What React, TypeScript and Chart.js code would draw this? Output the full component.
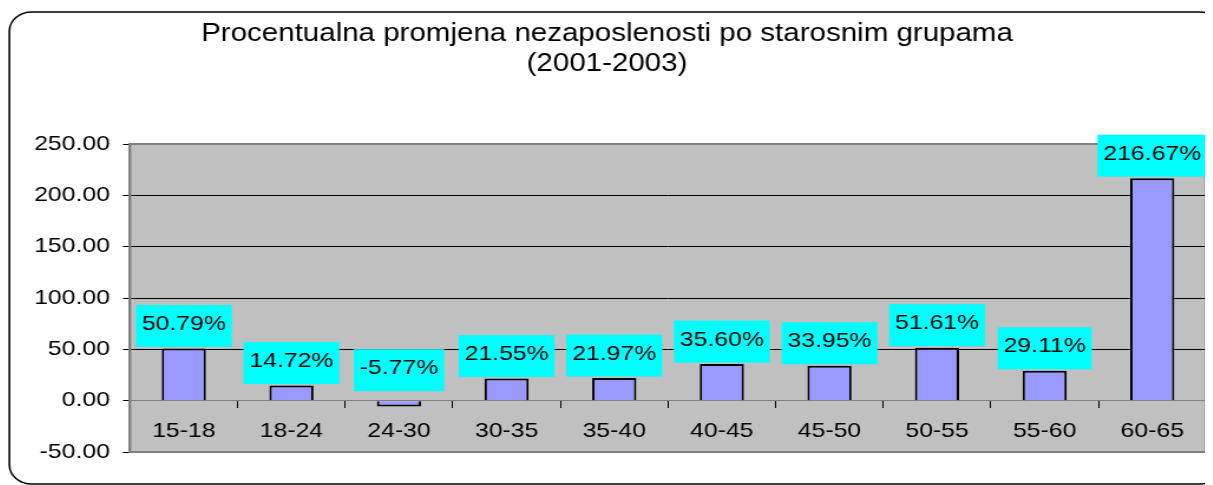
import React, { useEffect, useRef } from "react";
import { Chart, registerables } from "chart.js";

Chart.register(...registerables);

// ---- data ----
const categories = ["15-18", "18-24", "24-30", "30-35", "35-40", "40-45", "45-50", "50-55", "55-60", "60-65"];
const changePct = [50.79, 14.72, -5.77, 21.55, 21.97, 35.6, 33.95, 51.61, 29.11, 216.67];
const titleLines = ["Procentualna promjena nezaposlenosti po starosnim grupama", "(2001-2003)"];
const yMin = -50;
const yMax = 250;
const yStep = 50;

// ---- style ----
const FONT = "'Liberation Sans', Arial, Helvetica, sans-serif";
const STRETCH = 1.18;
const W = 1021;
const H = 477;

const formatPct = (v: number) => v.toFixed(2) + "%";

const frame = {
  id: "frame",
  beforeDraw(chart: any) {
    const { ctx, chartArea } = chart;
    ctx.save();
    ctx.fillStyle = "#ffffff";
    ctx.fillRect(0, 0, chart.width, chart.height);
    // outer rounded frame
    ctx.beginPath();
    (ctx as any).roundRect(1.2, 4, 1028, 472, 19);
    ctx.lineWidth = 1.5;
    ctx.strokeStyle = "#000000";
    ctx.stroke();
    // plot area background
    ctx.fillStyle = "#C0C0C0";
    ctx.fillRect(chartArea.left, chartArea.top, chartArea.right - chartArea.left, chartArea.bottom - chartArea.top);
    ctx.restore();
  },
  beforeDatasetsDraw(chart: any) {
    const { ctx, chartArea } = chart;
    ctx.save();
    ctx.strokeStyle = "#808080";
    ctx.lineWidth = 2;
    ctx.strokeRect(chartArea.left, chartArea.top, chartArea.right - chartArea.left, chartArea.bottom - chartArea.top);
    ctx.restore();
  },
};

const valueBoxes = {
  id: "valueBoxes",
  afterDatasetsDraw(chart: any) {
    const { ctx } = chart;
    const meta = chart.getDatasetMeta(0);
    ctx.save();
    ctx.font = `21px ${FONT}`;
    meta.data.forEach((bar: any, i: number) => {
      const v = changePct[i];
      const p = bar.getProps(["x", "y", "base"], true);
      const top = Math.min(p.y, p.base);
      const gap = v < 0 ? 10 : 1.5;
      const text = formatPct(v);
      const tw = ctx.measureText(text).width;
      const w = tw + 10;
      const h = 42;
      const bottom = top - gap;
      ctx.fillStyle = "#00FFFF";
      ctx.fillRect(p.x - w / 2, bottom - h, w, h);
      ctx.fillStyle = "#000000";
      ctx.textAlign = "center";
      ctx.textBaseline = "alphabetic";
      ctx.fillText(text, p.x, bottom - 17);
    });
    ctx.restore();
  },
};

export default function App() {
  const ref = useRef<HTMLCanvasElement | null>(null);

  useEffect(() => {
    document.documentElement.style.overflow = "hidden";
    document.body.style.overflow = "hidden";
    const canvas = ref.current;
    if (!canvas) return;
    const tickFont = { family: FONT, size: 21, weight: "normal" as const };
    const chart = new Chart(canvas, {
      type: "bar",
      data: {
        labels: categories,
        datasets: [
          {
            data: changePct,
            backgroundColor: "#9999FF",
            borderColor: "#000000",
            borderWidth: 2,
            barPercentage: 0.41,
            categoryPercentage: 1,
          },
        ],
      },
      options: {
        responsive: false,
        animation: false,
        devicePixelRatio: 1,
        layout: { padding: { left: 0, right: 5.7, top: 0, bottom: 33 } },
        plugins: {
          legend: { display: false },
          tooltip: { enabled: false },
          title: {
            display: true,
            text: titleLines,
            color: "#000000",
            font: { family: FONT, size: 25, weight: "normal", lineHeight: 1.22 },
            padding: { top: 10.5, bottom: 64.5 },
          },
        },
        scales: {
          x: {
            position: { y: 0 } as any,
            grid: {
              display: true,
              drawOnChartArea: false,
              drawTicks: true,
              tickLength: 7,
              tickColor: "#000000",
              offset: true,
            },
            border: { display: true, color: "#808080", width: 1 },
            ticks: { font: tickFont, color: "#000000", padding: 11, maxRotation: 0, autoSkip: false },
          },
          y: {
            min: yMin,
            max: yMax,
            ticks: {
              stepSize: yStep,
              font: tickFont,
              color: "#000000",
              padding: 11,
              callback: (v: any) => Number(v).toFixed(2),
            },
            grid: {
              color: (c: any) => {
                const v = c.tick ? c.tick.value : null;
                return v === 0 || v === yMin || v === yMax ? "#808080" : "#000000";
              },
              tickColor: "#000000",
              tickLength: 6,
              lineWidth: 1,
            },
            border: { display: true, color: "#808080", width: 2 },
            afterFit: (s: any) => {
              s.width = 103.4;
            },
          },
        },
      },
      plugins: [frame, valueBoxes],
    });
    return () => chart.destroy();
  }, []);

  return (
    <div>
      <canvas
        ref={ref}
        width={W}
        height={H}
        style={{
          display: "block",
          width: W + "px",
          height: H + "px",
          transform: `scaleX(${STRETCH})`,
          transformOrigin: "0 0",
        }}
      />
    </div>
  );
}
